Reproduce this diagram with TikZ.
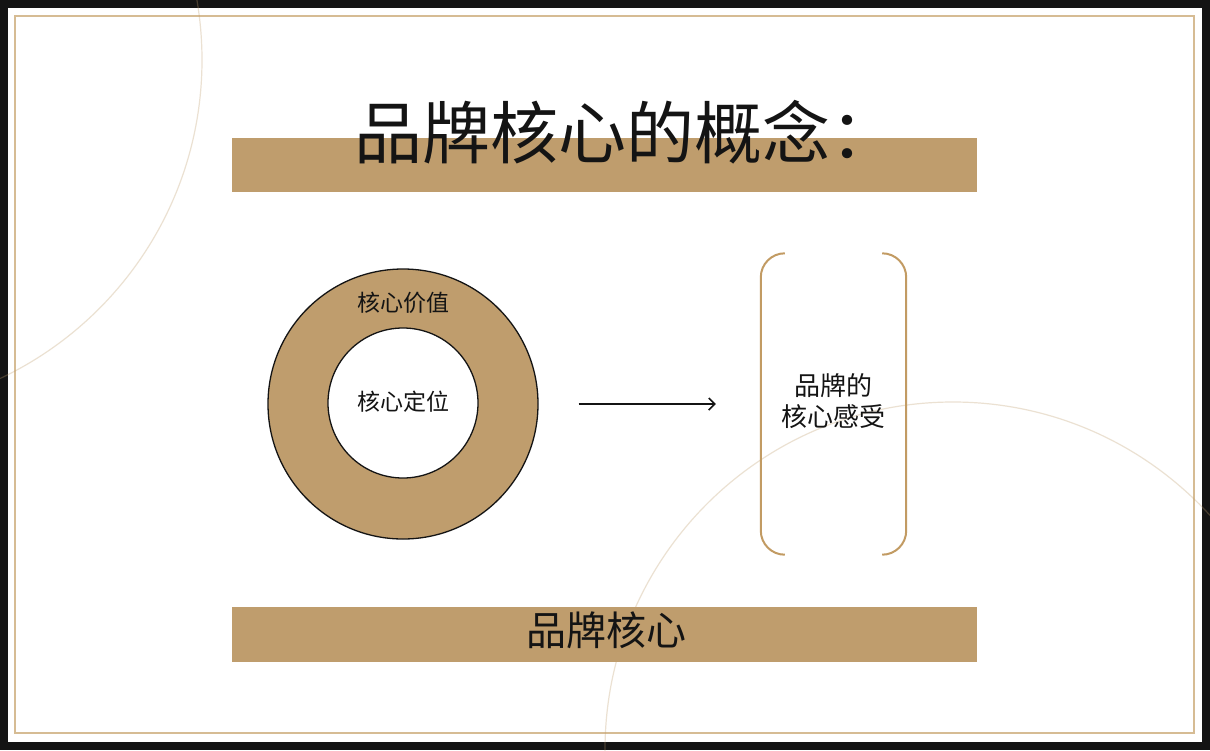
\documentclass[tikz,border=0pt]{standalone}
\usepackage{fontspec}
\setmainfont{Noto Sans CJK SC}
\usetikzlibrary{arrows.meta}
\definecolor{gold}{RGB}{191,157,109}
\definecolor{framegold}{RGB}{214,188,148}
\definecolor{bracketgold}{RGB}{194,155,99}
\definecolor{ink}{RGB}{20,20,20}
\tikzset{
  bar/.style={fill=gold, draw=none, inner sep=0pt},
  thinarc/.style={draw=gold, opacity=0.3, line width=1.2pt},
  bracketline/.style={draw=bracketgold, line width=2pt, rounded corners=24pt},
  lbl/.style={text=ink, inner sep=0pt},
}
\begin{document}
\begin{tikzpicture}[x=1pt,y=-1pt]
\useasboundingbox (0,0) rectangle (1210,750);
% frame
\fill[ink] (0,0) rectangle (1210,750);
\fill[white] (8,8) rectangle (1202,742);
\draw[framegold, line width=2pt] (15,16) rectangle (1194,733);
% faint circles
\begin{scope}
\clip (0,0) rectangle (1210,750);
\draw[thinarc] (-150,60) circle[radius=352];
\draw[thinarc] (953,750) circle[radius=348];
\end{scope}
% title
\node[bar, minimum width=745pt, minimum height=54pt] (tbar) at (604.5,165) {};
\node[lbl, anchor=base, font=\fontsize{68}{68}\selectfont] (title) at (626,158) {品牌核心的概念：};
% ring
\node[circle, fill=gold, draw=ink, line width=1.3pt, minimum size=270pt, inner sep=0pt] (ring) at (403,404) {};
\node[circle, fill=white, draw=ink, line width=1.3pt, minimum size=150pt, inner sep=0pt] (core) at (403,403) {};
\node[lbl, anchor=base, font=\fontsize{23}{23}\selectfont] (val) at (403,311) {核心价值};
\node[lbl, anchor=base, font=\fontsize{23}{23}\selectfont] (pos) at (403,410) {核心定位};
% bracket
\node[minimum width=145pt, minimum height=301pt, inner sep=0pt] (feel) at (833.5,404) {};
\node[lbl, align=center, font=\fontsize{26}{31}\selectfont] (feeltext) at (833,401) {品牌的\\核心感受};
\draw[bracketline] ([xshift=24pt]feel.north west) -- (feel.north west) -- (feel.south west) -- ([xshift=24pt]feel.south west);
\draw[bracketline] ([xshift=-24pt]feel.north east) -- (feel.north east) -- (feel.south east) -- ([xshift=-24pt]feel.south east);
% arrow
\draw[ink, line width=1.5pt, -{Straight Barb[length=6pt,width=12pt]}] ([xshift=40pt]ring.east) -- ([xshift=-45pt]feel.west);
% bottom bar
\node[bar, minimum width=745pt, minimum height=55pt] (bbar) at (604.5,634.5) {};
\node[lbl, anchor=base, font=\fontsize{40}{40}\selectfont] (btext) at (606,645) {品牌核心};
\end{tikzpicture}
\end{document}
